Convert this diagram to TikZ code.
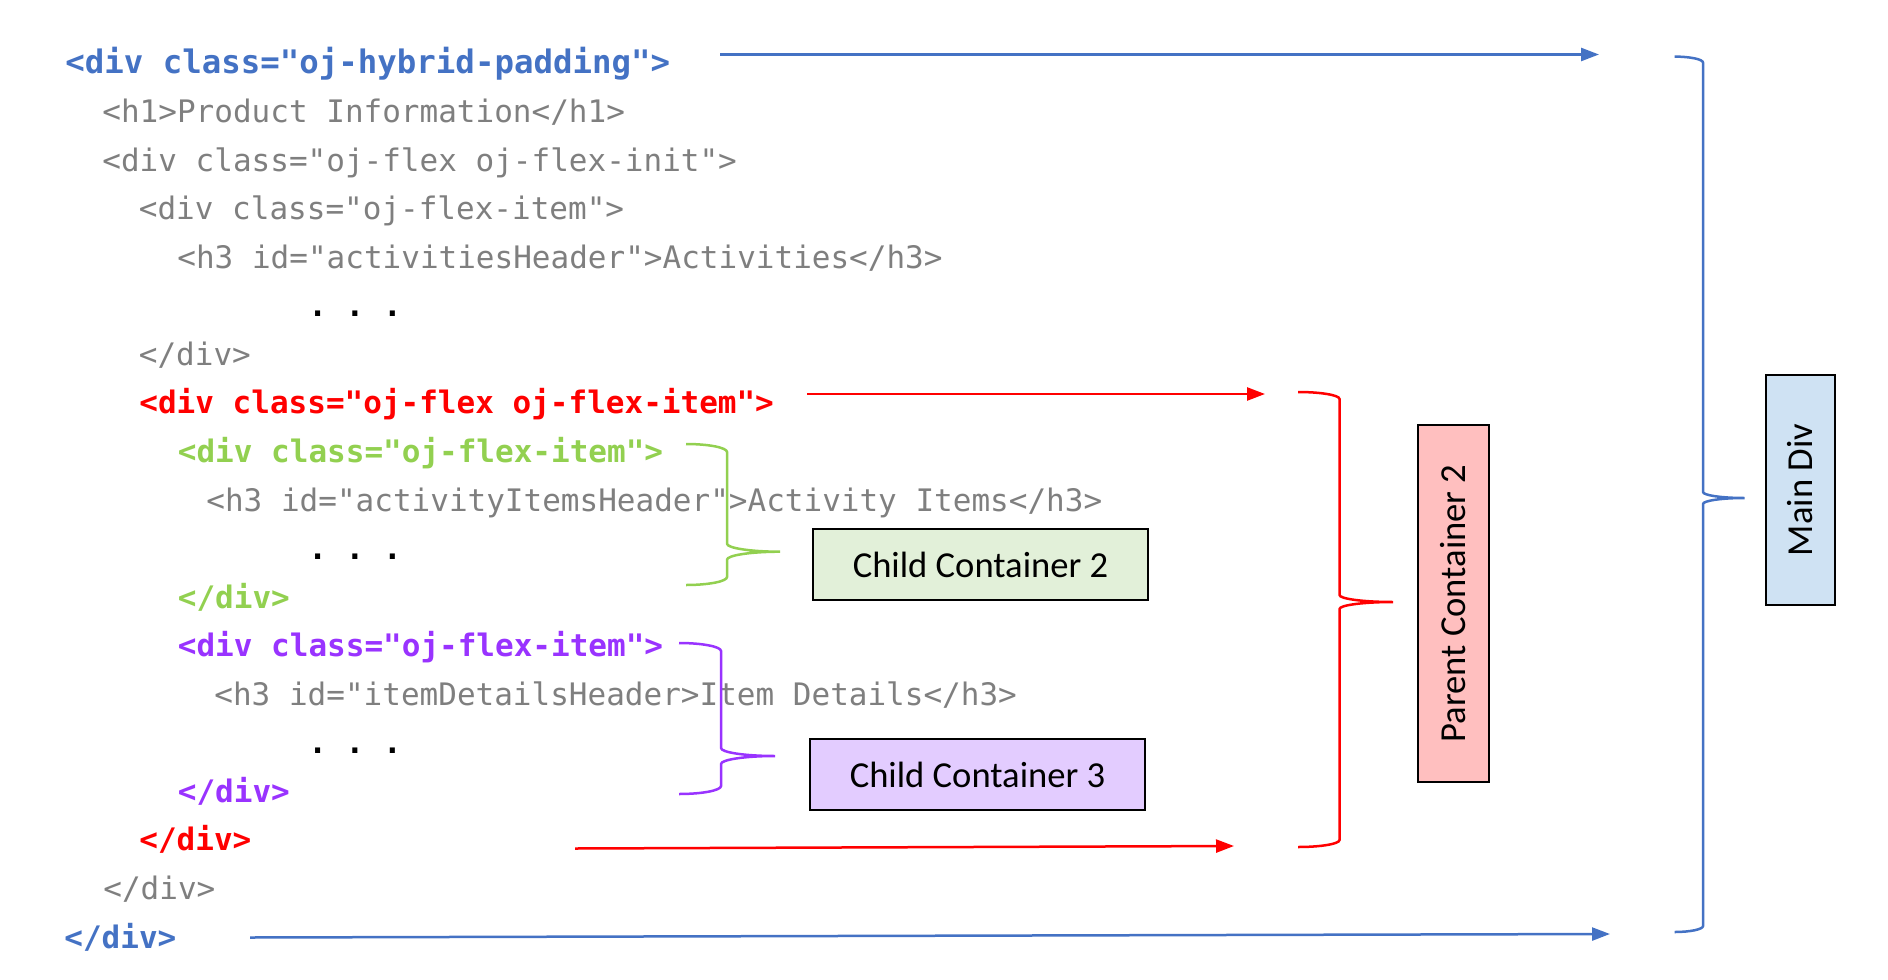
\documentclass[tikz,border=0pt]{standalone}
\usepackage{fontspec}
\setmonofont{DejaVu Sans Mono}
\newfontfamily\labelfont{Carlito}
\usetikzlibrary{arrows.meta}
\definecolor{cblue}{HTML}{4472C4}
\definecolor{cred}{HTML}{FF0000}
\definecolor{cgreen}{HTML}{92D050}
\definecolor{cpurple}{HTML}{9933FF}
\definecolor{cgray}{HTML}{7F7F7F}
\definecolor{fgreen}{HTML}{E2F0D9}
\definecolor{fpurple}{HTML}{E3CCFF}
\definecolor{fred}{HTML}{FFBFBF}
\definecolor{fblue}{HTML}{CFE2F3}
% #1 style, #2 x end, #3 x vertical, #4 x tip, #5 y top, #6 y tip, #7 y bottom, #8 corner
\newcommand{\bracepath}[8]{%
 \draw[#1] (#2,#5) .. controls ({#2+0.55*(#3-#2)},#5) and (#3,{#5+0.45*#8}) .. (#3,{#5+#8})
   -- (#3,{#6-#8}) .. controls (#3,{#6-0.45*#8}) and ({#4-0.55*(#4-#3)},#6) .. (#4,#6)
   (#4,#6) .. controls ({#4-0.55*(#4-#3)},#6) and (#3,{#6+0.45*#8}) .. (#3,{#6+#8})
   -- (#3,{#7-#8}) .. controls (#3,{#7-0.45*#8}) and ({#2+0.55*(#3-#2)},#7) .. (#2,#7);}
\begin{document}
\begin{tikzpicture}[x=0.5pt,y=-0.5pt,
  code/.style={anchor=base west, inner sep=0pt, text=cgray, font=\ttfamily\fontsize{15.5}{18}\selectfont},
  codeb/.style={code, font=\ttfamily\bfseries\fontsize{15.5}{18}\selectfont},
  box/.style={draw=black, line width=1pt, inner sep=0pt, text=black, font=\labelfont\fontsize{18.3}{22}\selectfont},
  arrow/.style={-{Triangle[length=9pt,width=6.5pt]}, line width=1.25pt},
  brace/.style={line width=1.25pt, line cap=butt}]
\useasboundingbox (0,0) rectangle (1888,979);
% code lines
\node[codeb, text=cblue, font=\ttfamily\bfseries\fontsize{16.2}{19}\selectfont] (l0) at (65,74) {<div class="oj-hybrid-padding">};
\node[code] (l1) at (102,122.5) {<h1>Product Information</h1>};
\node[code] (l2) at (102,171) {<div class="oj-flex oj-flex-init">};
\node[code] (l3) at (138.5,219.6) {<div class="oj-flex-item">};
\node[code] (l4) at (177,268) {<h3 id="activitiesHeader">Activities</h3>};
\node[codeb, text=black] (l5) at (308,316.7) {. . .};
\node[code] (l6) at (138.5,365) {</div>};
\node[codeb, text=cred] (l7) at (139,413.8) {<div class="oj-flex oj-flex-item">};
\node[codeb, text=cgreen] (l8) at (177.5,462) {<div class="oj-flex-item">};
\node[code] (l9) at (206,511) {<h3 id="activityItemsHeader">Activity Items</h3>};
\node[codeb, text=black] (l10) at (308,559.5) {. . .};
\node[codeb, text=cgreen] (l11) at (177.5,608) {</div>};
\node[codeb, text=cpurple] (l12) at (177.5,656.6) {<div class="oj-flex-item">};
\node[code] (l13) at (214,705) {<h3 id="itemDetailsHeader>Item Details</h3>};
\node[codeb, text=black] (l14) at (308,753.6) {. . .};
\node[codeb, text=cpurple] (l15) at (177.5,802) {</div>};
\node[codeb, text=cred] (l16) at (139,850.7) {</div>};
\node[code] (l17) at (103,899) {</div>};
\node[codeb, text=cblue] (l18) at (64,948) {</div>};
% boxes
\node[box, fill=fgreen, minimum width=167.8pt, minimum height=35.5pt] (cc2) at (980.5,564.5) {Child Container 2};
\node[box, fill=fpurple, minimum width=167.5pt, minimum height=35.5pt] (cc3) at (977.5,774.5) {Child Container 3};
\node[box, fill=fred, rotate=90, minimum width=178.5pt, minimum height=35.8pt] (pc2) at (1453.5,603.5) {Parent Container 2};
\node[box, fill=fblue, rotate=90, minimum width=115pt, minimum height=34.3pt] (md) at (1800.2,490) {Main Div};
% arrows
\coordinate (a1s) at (720,54.5);   \coordinate (a1e) at (1599,54.5);
\coordinate (a2s) at (250,937.5);  \coordinate (a2e) at (1610,934);
\coordinate (a3s) at (807,394);    \coordinate (a3e) at (1265,394);
\coordinate (a4s) at (575,848.5);  \coordinate (a4e) at (1234,846);
\draw[arrow, cblue] (a1s) -- (a1e);
\draw[arrow, cblue] (a2s) -- (a2e);
\draw[arrow, cred] (a3s) -- (a3e);
\draw[arrow, cred] (a4s) -- (a4e);
% braces
\bracepath{brace, cblue}{1674.5}{1703}{1744.5}{56.6}{498}{932}{6}
\bracepath{brace, cred}{1298}{1339.5}{1393}{392}{602}{847}{7}
\bracepath{brace, cgreen}{686}{727}{780}{444}{551.7}{585}{8}
\bracepath{brace, cpurple}{679}{721}{775}{643}{756}{794}{8}
\end{tikzpicture}
\end{document}
